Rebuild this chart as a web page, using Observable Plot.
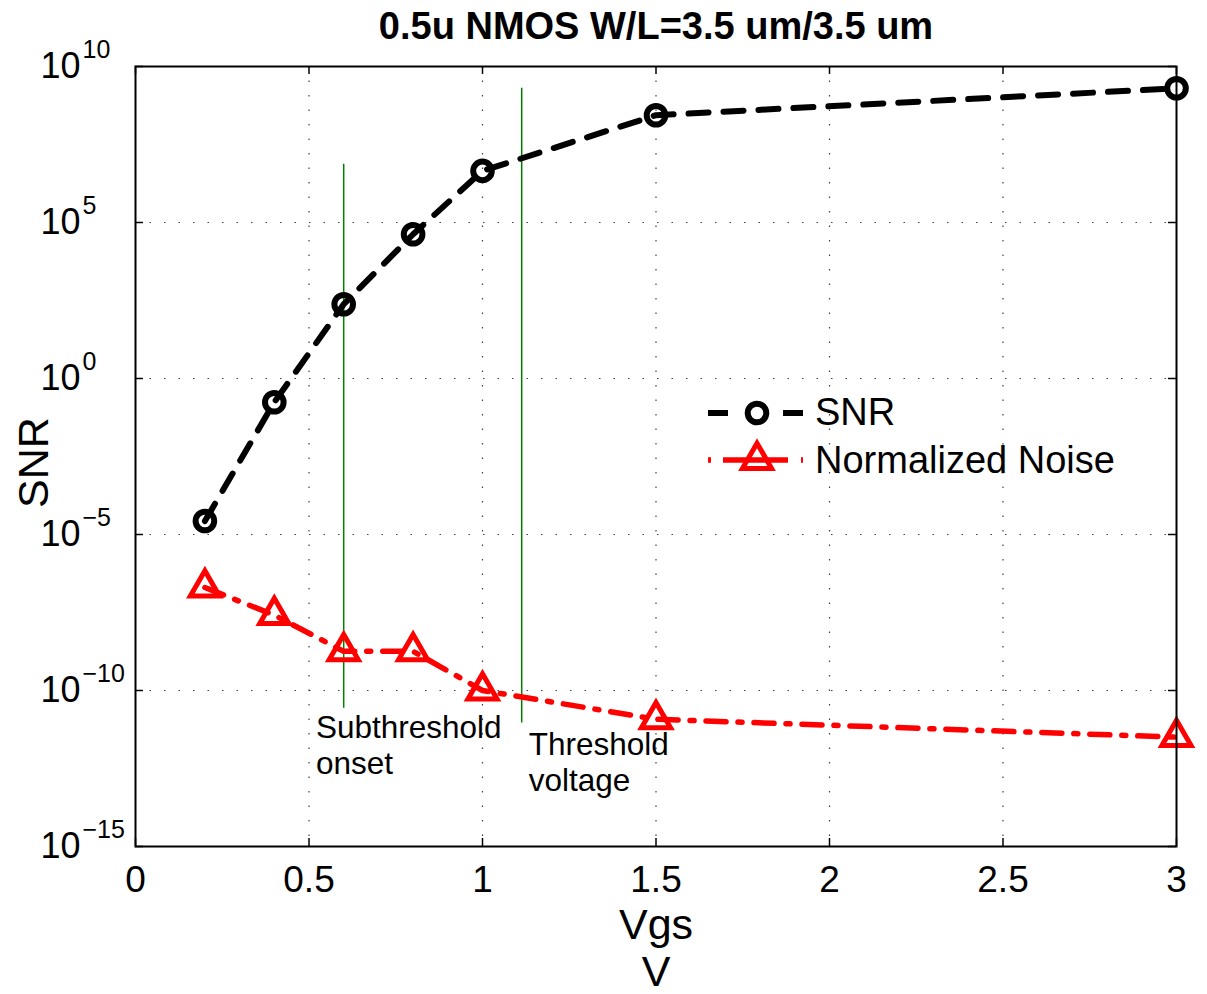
<!DOCTYPE html>
<html>
<head>
<meta charset="utf-8">
<script src="https://cdn.jsdelivr.net/npm/d3@7"></script>
<script src="https://cdn.jsdelivr.net/npm/@observablehq/plot@0.6"></script>
<style>
  html, body { margin: 0; padding: 0; background: #fff; }
  svg { display: block; }
</style>
</head>
<body>
<div id="chart"></div>
<script>
// ---- data ----
const titleText = "0.5u NMOS W/L=3.5 um/3.5 um";
const xLabelLines = ["Vgs", "V"];
const yLabelText = "SNR";
const seriesNames = ["SNR", "Normalized Noise"];

const vgs = [0.2, 0.4, 0.6, 0.8, 1.0, 1.5, 3.0];
const snr = [2.7e-5, 0.174, 240, 4.2e4, 4.5e6, 2.75e8, 2.0e9];
const noise = [2.0e-7, 2.6e-8, 1.8e-9, 1.8e-9, 1.0e-10, 1.2e-11, 3.2e-12];

// vertical markers (green)
const markerX = [0.6, 1.113];
const markerTop = [7.4e6, 2.0e9];
const markerBottom = [2.7e-11, 9.1e-12];

// annotations (x, y of last line baseline)
const annoX = [0.52, 1.133];
const annoY = [2.1e-13, 5.9e-14];
const annoText = ["Subthreshold\nonset", "Threshold\nvoltage"];

const xTicks = [0, 0.5, 1, 1.5, 2, 2.5, 3];
const yTicks = [1e-15, 1e-10, 1e-5, 1, 1e5, 1e10];

// ---- layout ----
const W = 1207, H = 994;
const mt = 66, mb = 148, ml = 135, mr = 31;
const fw = W - ml - mr, fh = H - mt - mb;
const font = "'Liberation Sans', Arial, Helvetica, sans-serif";

const snrRows = vgs.map((v, i) => ({v, val: snr[i]}));
const noiseRows = vgs.map((v, i) => ({v, val: noise[i]}));
const markerRows = markerX.map((x, i) => ({x, y1: markerBottom[i], y2: markerTop[i]}));
const annoRows = annoX.map((x, i) => ({x, y: annoY[i], t: annoText[i]}));

const dotted = {stroke: "#000", strokeOpacity: 0.75, strokeWidth: 1.2, strokeDasharray: "1.5,13"};
const circR = 9.3, triR = 10.8;

const plot = Plot.plot({
  width: W, height: H,
  marginTop: mt, marginBottom: mb, marginLeft: ml, marginRight: mr,
  style: {fontFamily: font, background: "#fff", overflow: "visible"},
  x: {domain: [0, 3], axis: null},
  y: {type: "log", domain: [1e-15, 1e10], axis: null},
  marks: [
    Plot.gridX(xTicks.slice(1, -1), {...dotted}),
    Plot.gridY(yTicks.slice(1, -1), {...dotted}),
    Plot.ruleX(markerRows, {x: "x", y1: "y1", y2: "y2", stroke: "#008000", strokeWidth: 1.5}),
    Plot.line(snrRows, {x: "v", y: "val", stroke: "#000", strokeWidth: 6, strokeDasharray: "20,15"}),
    Plot.line(noiseRows, {x: "v", y: "val", stroke: "#ff0000", strokeWidth: 5.5, strokeDasharray: "20,12,4,12"}),
    Plot.dot(snrRows, {x: "v", y: "val", r: circR, stroke: "#000", strokeWidth: 6, fill: "none"}),
    Plot.dot(noiseRows, {x: "v", y: "val", r: triR, symbol: "triangle", stroke: "#ff0000", strokeWidth: 5, fill: "none"}),
    Plot.frame({stroke: "#000", strokeWidth: 2}),
    // inward ticks
    Plot.ruleX(xTicks, {x: d => d, insetTop: fh - 8, stroke: "#000", strokeWidth: 1.5}),
    Plot.ruleX(xTicks, {x: d => d, insetBottom: fh - 8, stroke: "#000", strokeWidth: 1.5}),
    Plot.ruleY(yTicks, {y: d => d, insetRight: fw - 8, stroke: "#000", strokeWidth: 1.5}),
    Plot.ruleY(yTicks, {y: d => d, insetLeft: fw - 8, stroke: "#000", strokeWidth: 1.5}),
    // x tick labels
    Plot.axisX({ticks: xTicks, tickSize: 0, tickPadding: 19, fontSize: 37, label: null, tickFormat: d => String(d), stroke: "none"}),
    // y tick labels 10^n
    Plot.text(yTicks, {y: d => d, text: () => "10", frameAnchor: "left", textAnchor: "end", lineAnchor: "middle", dx: -55, fontSize: 36, fill: "#000"}),
    Plot.text(yTicks, {y: d => d, text: d => String(Math.round(Math.log10(d))).replace("-", "\u2212"), frameAnchor: "left", textAnchor: "start", lineAnchor: "middle", dx: -53, dy: -17, fontSize: 25, fill: "#000"}),
    // title
    Plot.text([titleText], {text: d => d, frameAnchor: "top", lineAnchor: "bottom", dy: -28, fontSize: 38, fontWeight: "bold", fill: "#000"}),
    // x label
    Plot.text([xLabelLines.join("\n")], {text: d => d, frameAnchor: "bottom", lineAnchor: "top", dy: 59, fontSize: 43, lineHeight: 1.1, fill: "#000"}),
    // y label
    Plot.text([yLabelText], {text: d => d, frameAnchor: "left", rotate: -90, lineAnchor: "bottom", textAnchor: "middle", dx: -88, dy: 6, fontSize: 43, fill: "#000"}),
    // annotations
    Plot.text(annoRows, {x: "x", y: "y", text: "t", textAnchor: "start", lineAnchor: "bottom", fontSize: 31.5, lineHeight: 1.15, fill: "#000"})
  ]
});

document.getElementById("chart").appendChild(plot);

// ---- legend (inside frame, no box) ----
const svg = d3.select(plot);
const lg = svg.append("g").attr("font-family", font).attr("text-anchor", "start");
const lx0 = ml + 573, lx1 = ml + 668, lmx = ml + 622, ltx = ml + 680;
const rows = [mt + 347, mt + 394];
const triSize = triR * triR * Math.PI;
// SNR row
lg.append("line").attr("x1", lx0).attr("x2", lx1).attr("y1", rows[0]).attr("y2", rows[0])
  .attr("stroke", "#000").attr("stroke-width", 6).attr("stroke-dasharray", "20,55");
lg.append("circle").attr("cx", lmx).attr("cy", rows[0]).attr("r", circR)
  .attr("fill", "none").attr("stroke", "#000").attr("stroke-width", 6);
lg.append("text").attr("x", ltx).attr("y", rows[0] + 12).attr("font-size", 38).attr("fill", "#000").text(seriesNames[0]);
// Noise row
lg.append("line").attr("x1", lx0).attr("x2", lx1).attr("y1", rows[1]).attr("y2", rows[1])
  .attr("stroke", "#ff0000").attr("stroke-width", 5.5).attr("stroke-dasharray", "3,12,65,13,2");
lg.append("path").attr("d", d3.symbol(d3.symbolTriangle, triSize)())
  .attr("transform", `translate(${lmx},${rows[1]})`)
  .attr("fill", "none").attr("stroke", "#ff0000").attr("stroke-width", 5);
lg.append("text").attr("x", ltx).attr("y", rows[1] + 13).attr("font-size", 38).attr("fill", "#000").text(seriesNames[1]);
</script>
</body>
</html>
